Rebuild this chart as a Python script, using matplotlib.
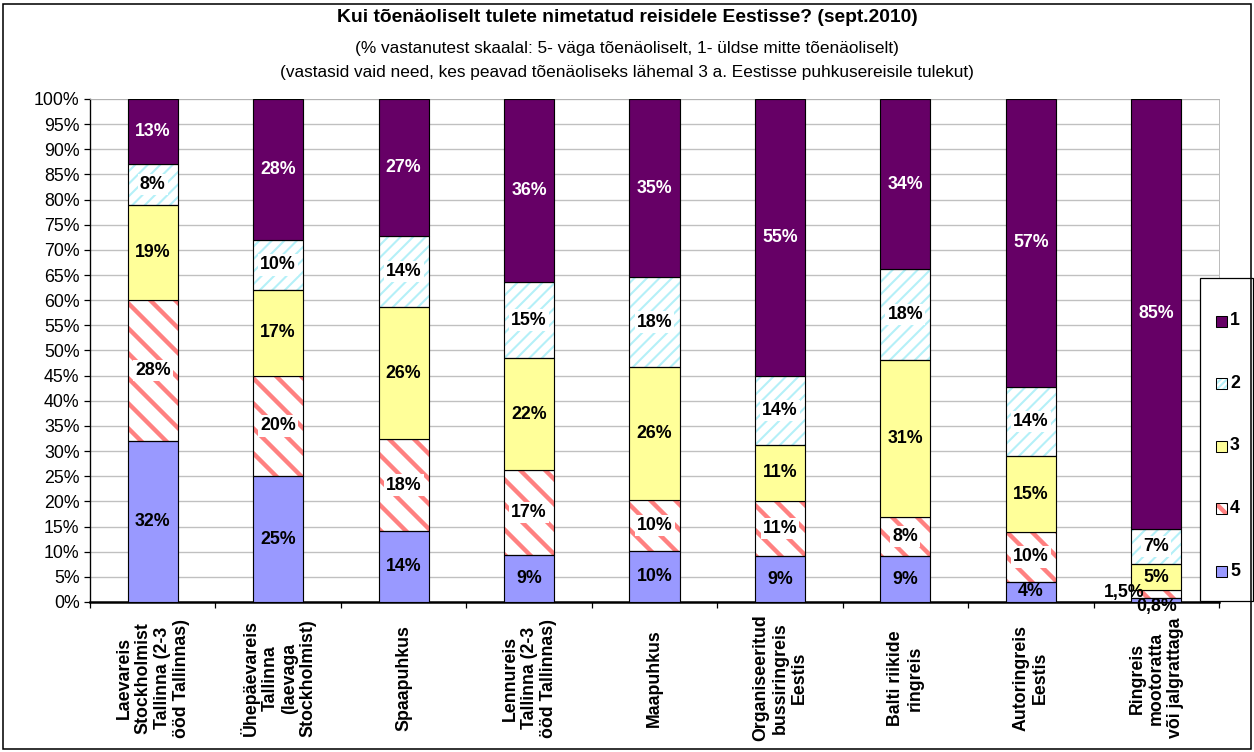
import numpy as np
import matplotlib
matplotlib.use('Agg')
import matplotlib.pyplot as plt
from matplotlib.patches import Rectangle

# data (percent of respondents per answer 5..1)
categories = ['Laevareis\nStockholmist\nTallinna (2-3\nööd Tallinnas)',
              'Ühepäevareis\nTallinna\n(laevaga\nStockholmist)',
              'Spaapuhkus',
              'Lennureis\nTallinna (2-3\nööd Tallinnas)',
              'Maapuhkus',
              'Organiseeritud\nbussiringreis\nEestis',
              'Balti riikide\nringreis',
              'Autoringreis\nEestis',
              'Ringreis\nmootoratta\nvõi jalgrattaga']
scale_5 = [32.0, 25.0, 14.1, 9.3, 10.1, 9.1, 9.1, 4.0, 0.8]
scale_4 = [28.0, 20.0, 18.3, 16.9, 10.2, 11.0, 7.8, 9.9, 1.5]
scale_3 = [19.0, 17.0, 26.2, 22.3, 26.4, 11.1, 31.2, 15.1, 5.2]
scale_2 = [8.0, 10.0, 14.2, 15.1, 17.9, 13.8, 18.1, 13.8, 7.1]
scale_1 = [13.0, 28.0, 27.2, 36.4, 35.4, 55.0, 33.8, 57.2, 85.4]
y_ticks = list(range(0, 101, 5))

title = 'Kui tõenäoliselt tulete nimetatud reisidele Eestisse? (sept.2010)'
subtitle1 = '(% vastanutest skaalal: 5- väga tõenäoliselt, 1- üldse mitte tõenäoliselt)'
subtitle2 = '(vastasid vaid need, kes peavad tõenäoliseks lähemal 3 a. Eestisse puhkusereisile tulekut)'

W, H, DPI = 1254, 752, 75
plt.rcParams['font.family'] = ['Liberation Sans', 'DejaVu Sans']


def fx(px):
    return px / W


def fy(py):
    return 1 - py / H


fig = plt.figure(figsize=(W / DPI, H / DPI), dpi=DPI)
ax = fig.add_axes([fx(90), fy(602), (1219 - 90) / W, (602 - 99) / H])

# name, values, face colour, hatch, hatch colour, hatch width, text colour, white box behind text
series = [
    ('5', scale_5, '#9999FF', None, None, 0, 'black', False),
    ('4', scale_4, 'white', '\\', '#FF8080', 4.2, 'black', True),
    ('3', scale_3, '#FFFF99', None, None, 0, 'black', False),
    ('2', scale_2, 'white', '//', '#B4F0F8', 2.0, 'black', True),
    ('1', scale_1, '#660066', None, None, 0, 'white', False),
]

x = np.arange(len(categories))
width = 0.4
lab_fs = 17
bottom = np.zeros(len(categories))
for name, vals, face, hatch, hcol, hlw, tcol, box in series:
    vals = np.array(vals)
    if hatch:
        bars = ax.bar(x, vals, width, bottom=bottom, color='white', edgecolor=hcol,
                      hatch=hatch, linewidth=0, zorder=2)
        for b in bars:
            if hasattr(b, 'set_hatch_linewidth'):
                b.set_hatch_linewidth(hlw)
        ax.bar(x, vals, width, bottom=bottom, facecolor='none', edgecolor='black',
               linewidth=1.1, zorder=3)
    else:
        ax.bar(x, vals, width, bottom=bottom, color=face, edgecolor='black',
               linewidth=1.1, zorder=3)

    bb = dict(boxstyle='square,pad=0.12', fc='white', ec='none') if box else None
    for i, v in enumerate(vals):
        yc = bottom[i] + v / 2
        if v >= 3:
            ax.text(x[i], yc, f'{v:.0f}%', ha='center', va='center', fontsize=lab_fs,
                    fontweight='bold', color=tcol, bbox=bb, zorder=5)
        elif bottom[i] == 0:
            # smallest share goes under the axis
            ax.text(x[i], -0.9, f'{v:.1f}%'.replace('.', ','), ha='center', va='center',
                    fontsize=lab_fs, fontweight='bold', color='black', zorder=6, clip_on=False)
        else:
            ax.text(x[i] - 0.09, yc + 0.3, f'{v:.1f}%'.replace('.', ','), ha='right',
                    va='center', fontsize=lab_fs, fontweight='bold', color='black', zorder=6)
    bottom += vals

ax.set_xlim(-0.5, len(categories) - 0.5)
ax.set_ylim(0, 100)
ax.set_yticks(y_ticks)
ax.set_yticklabels([f'{v}%' for v in y_ticks], fontsize=17)
ax.yaxis.grid(True, color='#C0C0C0', linewidth=1.3, zorder=0)
ax.set_axisbelow(True)

ax.set_xticks(x)
ax.set_xticklabels(categories, rotation=90, fontsize=17, fontweight='bold',
                   ha='center', va='center', multialignment='center', linespacing=1.15)
ax.tick_params(axis='x', which='major', length=0, pad=73)
ax.set_xticks(np.arange(-0.5, len(categories), 1), minor=True)
ax.tick_params(axis='x', which='minor', length=6, width=1.2, direction='out')
ax.tick_params(axis='y', length=6, width=1.2, direction='out', pad=4)

ax.spines['left'].set_linewidth(1.3)
ax.spines['bottom'].set_linewidth(2.4)
ax.spines['top'].set_color('#B0B0B0')
ax.spines['right'].set_color('#B0B0B0')

fig.text(0.5, fy(18), title, ha='center', va='center', fontsize=18.5, fontweight='bold')
fig.text(0.5, fy(48), subtitle1, ha='center', va='center', fontsize=16.5)
fig.text(0.5, fy(73), subtitle2, ha='center', va='center', fontsize=16.5)

# legend box on the right, entries 1..5 from the top
fig.add_artist(Rectangle((fx(1200), fy(601)), 53 / W, (601 - 278) / H,
                         transform=fig.transFigure, facecolor='white', edgecolor='black',
                         linewidth=1.2, zorder=10))
for k, (name, vals, face, hatch, hcol, hlw, tcol, box) in enumerate(series[::-1]):
    yp = 321 + k * 62.5
    sq = Rectangle((fx(1216), fy(yp + 5.5)), 11 / W, 11 / H, transform=fig.transFigure,
                   facecolor=face, edgecolor=hcol if hatch else 'black',
                   hatch=hatch * 2 if hatch else None,
                   linewidth=0 if hatch else 1, zorder=11)
    fig.add_artist(sq)
    if hatch:
        if hasattr(sq, 'set_hatch_linewidth'):
            sq.set_hatch_linewidth(hlw)
        fig.add_artist(Rectangle((fx(1216), fy(yp + 5.5)), 11 / W, 11 / H,
                                 transform=fig.transFigure, facecolor='none',
                                 edgecolor='black', linewidth=1, zorder=12))
    fig.text(fx(1230), fy(yp), name, ha='left', va='center', fontsize=17,
             fontweight='bold', zorder=12)

# outer chart border
fig.add_artist(Rectangle((fx(3), fy(749)), (1251 - 3) / W, (749 - 4) / H,
                         transform=fig.transFigure, fill=False, edgecolor='black',
                         linewidth=1.5, zorder=20))

fig.savefig('out.png', dpi=DPI)
